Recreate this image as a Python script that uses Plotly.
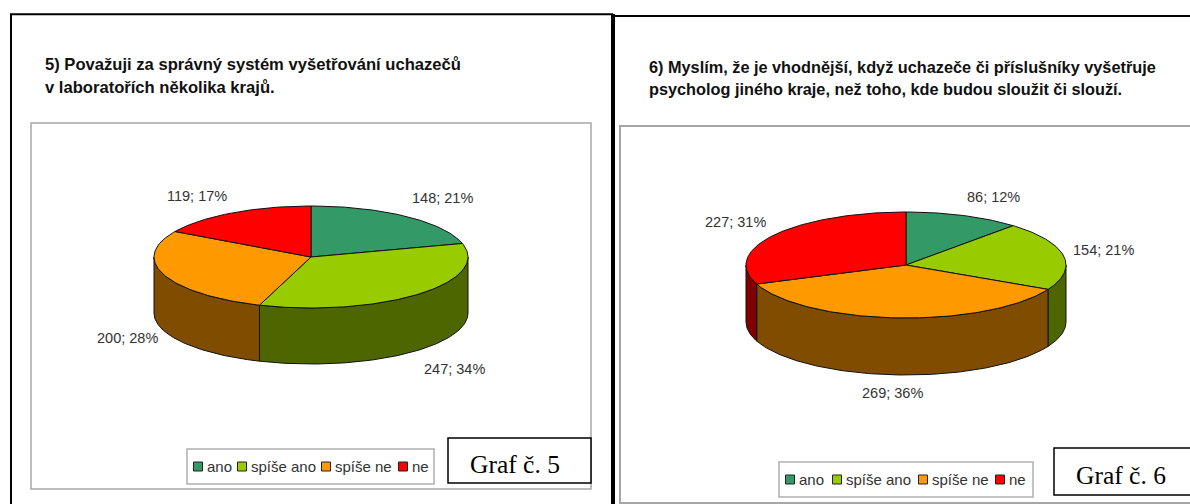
import math
import plotly.graph_objects as go

# ---- data ----
categories = ["ano", "spíše ano", "spíše ne", "ne"]
values_5 = [148, 247, 200, 119]
percent_5 = [21, 34, 28, 17]
values_6 = [86, 154, 269, 227]
percent_6 = [12, 21, 36, 31]
title_5 = ["5) Považuji za správný systém vyšetřování uchazečů", "v laboratořích několika krajů."]
title_6 = ["6) Myslím, že je vhodnější, když uchazeče či příslušníky vyšetřuje",
           "psycholog jiného kraje, než toho, kde budou sloužit či slouží."]
caption_5 = "Graf č. 5"
caption_6 = "Graf č. 6"

# ---- styles / layout ----
TOP = ["#339966", "#99CC00", "#FF9900", "#FF0000"]
SIDE = ["#1A4D33", "#4D6600", "#804C00", "#800000"]
FONT = "Liberation Sans"
TXT = "#333333"

fig = go.Figure()


def arc(cx, cy, rx, ry, a0, a1):
    n = max(2, int(abs(a1 - a0) / 0.02))
    xs, ys = [], []
    for i in range(n + 1):
        a = a0 + (a1 - a0) * i / n
        xs.append(cx + rx * math.sin(a))
        ys.append(cy - ry * math.cos(a))
    return xs, ys


def add_poly(xs, ys, color, name):
    fig.add_trace(go.Scatter(x=xs, y=ys, mode="lines", fill="toself", fillcolor=color,
                             line=dict(color="#111111", width=1), name=name,
                             hoverinfo="name", showlegend=False))


def pie3d(values, cx, cy, rx, ry, depth):
    total = sum(values)
    angles = [0.0]
    for v in values:
        angles.append(angles[-1] + v / total * 2 * math.pi)
    # side walls: only the part of each slice on the front half
    for i, name in enumerate(categories):
        a0 = max(angles[i], math.pi / 2)
        a1 = min(angles[i + 1], 3 * math.pi / 2)
        if a1 > a0:
            xs, ys = arc(cx, cy, rx, ry, a0, a1)
            xb, yb = arc(cx, cy + depth, rx, ry, a1, a0)
            add_poly(xs + xb + xs[:1], ys + yb + ys[:1], SIDE[i], name)
    # top slices
    for i, name in enumerate(categories):
        xs, ys = arc(cx, cy, rx, ry, angles[i], angles[i + 1])
        add_poly([cx] + xs + [cx], [cy] + ys + [cy], TOP[i], name)


def text(x, y, s, size=14, anchor="center", color=TXT, family=FONT):
    fig.add_annotation(x=x, y=y, text=s, showarrow=False, xanchor=anchor, yanchor="middle",
                       font=dict(family=family, size=size, color=color), xref="x", yref="y")


def rect(x0, y0, x1, y1, line="#000000", width=1, fill=None):
    fig.add_shape(type="rect", x0=x0, y0=y0, x1=x1, y1=y1, xref="x", yref="y",
                  line=dict(color=line, width=width), fillcolor=fill, layer="below")


def hline(x0, x1, y, width=2, color="#000000"):
    fig.add_shape(type="line", x0=x0, x1=x1, y0=y, y1=y, xref="x", yref="y",
                  line=dict(color=color, width=width), layer="below")


def vline(x, y0, y1, width=2, color="#000000"):
    fig.add_shape(type="line", x0=x, x1=x, y0=y0, y1=y1, xref="x", yref="y",
                  line=dict(color=color, width=width), layer="below")


def legend(x0, y0, x1, y1, offsets):
    rect(x0, y0, x1, y1, line="#B0B0B0", width=1.5)
    ym = (y0 + y1) / 2
    for i, c in enumerate(categories):
        mx = x0 + offsets[i]
        fig.add_trace(go.Scatter(x=[mx], y=[ym], mode="markers", showlegend=False, hoverinfo="skip",
                                 marker=dict(symbol="square", size=9, color=TOP[i],
                                             line=dict(color="#222222", width=1))))
        text(mx + 7, ym, c, size=15, anchor="left")


# chart areas
rect(31, 123, 591, 489, line="#A6A6A6", width=1.5)
rect(620, 126, 1200, 503, line="#A6A6A6", width=2)
# outer frames
vline(11, 14, 504, width=2)
hline(10, 613, 14.2, width=2)
vline(613, 14, 504, width=4)
hline(613, 1190, 16, width=2)

pie3d(values_5, 311, 257, 157, 51, 56)
pie3d(values_6, 906, 265, 160, 53, 57)

for s, y in zip(title_5, [64, 87]):
    text(43, y, f"<b>{s}</b>", size=16.6, anchor="left", color="#111111")
for s, y in zip(title_6, [67, 89]):
    text(647, y, f"<b>{s}</b>", size=16.3, anchor="left", color="#111111")

label_pos_5 = [(442, 198), (454, 369), (127, 338), (197, 196)]
label_pos_6 = [(993, 197), (1103, 250), (892, 393), (735, 222)]
for v, p, (x, y) in zip(values_5, percent_5, label_pos_5):
    text(x, y, f"{v}; {p}%", size=14.5)
for v, p, (x, y) in zip(values_6, percent_6, label_pos_6):
    text(x, y, f"{v}; {p}%", size=14.5)

legend(187, 449, 434, 484, [11, 55, 139, 216])
legend(779, 462, 1033, 497, [11, 58, 144, 221])

rect(448, 438, 591, 483, width=1.5, fill="#FFFFFF")
rect(1054, 448, 1200, 495, width=1.5, fill="#FFFFFF")
text(515, 464, caption_5, size=25.5, family="Liberation Serif", color="#000000")
text(1121, 475, caption_6, size=25.5, family="Liberation Serif", color="#000000")

fig.update_layout(
    width=1190, height=504, margin=dict(l=0, r=0, t=0, b=0),
    paper_bgcolor="white", plot_bgcolor="white", showlegend=False,
    xaxis=dict(range=[0, 1190], visible=False, fixedrange=True),
    yaxis=dict(range=[504, 0], visible=False, fixedrange=True),
)
fig.write_html("out.html", config={"displayModeBar": False},
               post_script="document.body.style.margin='0';document.body.style.overflow='hidden';")
